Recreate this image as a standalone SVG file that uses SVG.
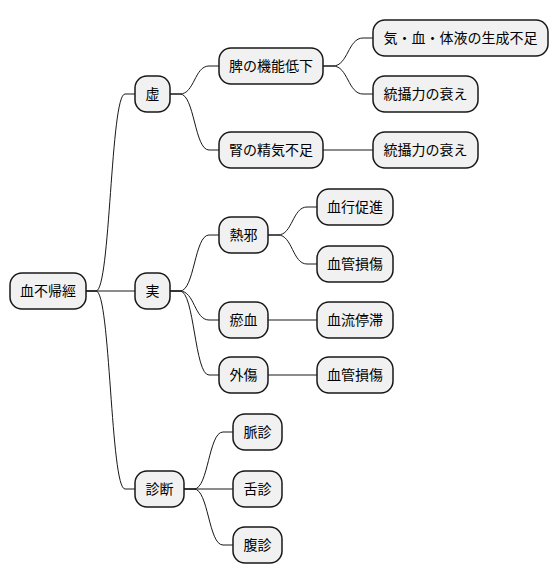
<svg xmlns="http://www.w3.org/2000/svg" width="558" height="583" viewBox="0 0 558 583">
<style>
.n rect{fill:#F1F1F1;stroke:#181818;stroke-width:1.5}
.n text{font-family:"Noto Sans CJK JP","Noto Sans",sans-serif;font-size:14px;fill:#000;text-anchor:middle}
.c path{fill:none;stroke:#181818;stroke-width:1}
</style>
<rect width="558" height="583" fill="#FFFFFF"/>
<g class="c">
<path d="M86,291 L96,291 C110.5,291 110.5,94 125,94 L135,94"/>
<path d="M86,291 L135,291"/>
<path d="M86,291 L96,291 C110.5,291 110.5,489 125,489 L135,489"/>
<path d="M170,94 L180,94 C194.5,94 194.5,66 209,66 L219,66"/>
<path d="M170,94 L180,94 C194.5,94 194.5,150 209,150 L219,150"/>
<path d="M323,66 L333,66 C348,66 348,38 363,38 L373,38"/>
<path d="M323,66 L333,66 C348,66 348,94 363,94 L373,94"/>
<path d="M323,150 L373,150"/>
<path d="M170,291 L180,291 C194.5,291 194.5,235 209,235 L219,235"/>
<path d="M170,291 L180,291 C194.5,291 194.5,320 209,320 L219,320"/>
<path d="M170,291 L180,291 C194.5,291 194.5,375 209,375 L219,375"/>
<path d="M268,235 L278,235 C292.5,235 292.5,207 307,207 L317,207"/>
<path d="M268,235 L278,235 C292.5,235 292.5,264 307,264 L317,264"/>
<path d="M268,320 L317,320"/>
<path d="M268,375 L317,375"/>
<path d="M184,489 L194,489 C208.5,489 208.5,432 223,432 L233,432"/>
<path d="M184,489 L233,489"/>
<path d="M184,489 L194,489 C208.5,489 208.5,545 223,545 L233,545"/>
</g>
<g id="root" class="n"><rect x="10" y="273" width="76" height="36" rx="12"/><text x="48" y="296">血不帰經</text></g>
<g id="kyo" class="n"><rect x="135" y="76" width="35" height="36" rx="12"/><text x="152.5" y="99">虚</text></g>
<g id="jitsu" class="n"><rect x="135" y="273" width="35" height="36" rx="12"/><text x="152.5" y="296">実</text></g>
<g id="shindan" class="n"><rect x="135" y="471" width="49" height="36" rx="12"/><text x="159.5" y="494">診断</text></g>
<g id="hi" class="n"><rect x="219" y="48" width="104" height="36" rx="12"/><text x="271" y="71">脾の機能低下</text></g>
<g id="jin" class="n"><rect x="219" y="132" width="104" height="36" rx="12"/><text x="271" y="155">腎の精気不足</text></g>
<g id="ki" class="n"><rect x="373" y="20" width="175" height="36" rx="12"/><text x="460.5" y="43">気・血・体液の生成不足</text></g>
<g id="tousetsu1" class="n"><rect x="373" y="76" width="105" height="36" rx="12"/><text x="425.5" y="99">統攝力の衰え</text></g>
<g id="tousetsu2" class="n"><rect x="373" y="132" width="105" height="36" rx="12"/><text x="425.5" y="155">統攝力の衰え</text></g>
<g id="netsuja" class="n"><rect x="219" y="217" width="49" height="36" rx="12"/><text x="243.5" y="240">熱邪</text></g>
<g id="oketsu" class="n"><rect x="219" y="302" width="49" height="36" rx="12"/><text x="243.5" y="325">瘀血</text></g>
<g id="gaisho" class="n"><rect x="219" y="357" width="49" height="36" rx="12"/><text x="243.5" y="380">外傷</text></g>
<g id="kekko" class="n"><rect x="317" y="189" width="76" height="36" rx="12"/><text x="355" y="212">血行促進</text></g>
<g id="kekkan1" class="n"><rect x="317" y="246" width="76" height="36" rx="12"/><text x="355" y="269">血管損傷</text></g>
<g id="ketsuryu" class="n"><rect x="317" y="302" width="76" height="36" rx="12"/><text x="355" y="325">血流停滞</text></g>
<g id="kekkan2" class="n"><rect x="317" y="357" width="76" height="36" rx="12"/><text x="355" y="380">血管損傷</text></g>
<g id="myaku" class="n"><rect x="233" y="414" width="49" height="36" rx="12"/><text x="257.5" y="437">脈診</text></g>
<g id="zetsu" class="n"><rect x="233" y="471" width="49" height="36" rx="12"/><text x="257.5" y="494">舌診</text></g>
<g id="fuku" class="n"><rect x="233" y="527" width="49" height="36" rx="12"/><text x="257.5" y="550">腹診</text></g>
</svg>
